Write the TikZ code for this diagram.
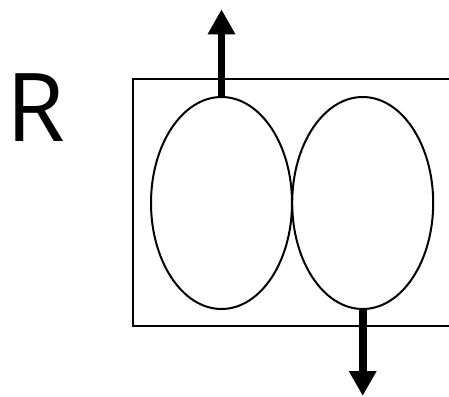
\documentclass[tikz,border=0pt]{standalone}
\usepackage{fontspec}
\setmainfont{Open Sans}
\usetikzlibrary{shapes.geometric,arrows.meta}
\tikzset{
  cell/.style={draw=black, line width=2pt, ellipse, minimum width=141pt, minimum height=212pt, inner sep=0pt},
  frame/.style={draw=black, line width=2pt},
  flow/.style={line width=7.6pt, -{Triangle[length=25pt,width=26pt]}},
}
\begin{document}
\begin{tikzpicture}[x=1pt,y=-1pt]
\useasboundingbox (0,0) rectangle (449,396);
\clip (0,0) rectangle (449,396);
\draw[frame] (133.3,79.3) rectangle (470,325.7);
\node[cell] (L) at (221.5,203) {};
\node[cell] (Rt) at (362.7,203) {};
\coordinate (top) at (221.5,9.3);
\coordinate (bot) at (362.7,396);
\draw[flow] (L.north) -- (top);
\draw[flow] (Rt.south) -- (bot);
\node[anchor=base west, inner sep=0pt, font=\fontsize{95}{95}\selectfont] (lab) at (6,141.7) {R};
\end{tikzpicture}
\end{document}
